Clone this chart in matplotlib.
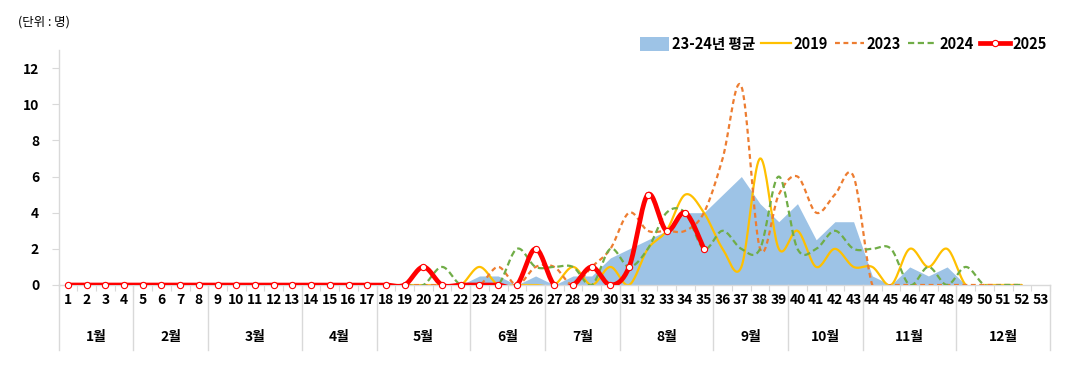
import matplotlib
matplotlib.use("Agg")
import matplotlib.pyplot as plt
import numpy as np
from matplotlib.patches import Patch
from matplotlib.lines import Line2D
import matplotlib.transforms as mtransforms

plt.rcParams['font.family'] = ['Noto Sans CJK KR', 'DejaVu Sans']

weeks = list(range(1, 54))
months = ["1월", "2월", "3월", "4월", "5월", "6월", "7월", "8월", "9월", "10월", "11월", "12월"]
month_weeks = [4, 4, 5, 4, 5, 4, 4, 5, 4, 4, 5, 5]

avg_2324 = [0]*22 + [0.5, 0.5, 0, 0.5, 0, 0.5, 0.5, 1.5, 2, 2.5, 3, 4, 4, 5, 6, 4.5, 3.5, 4.5,
                     2.5, 3.5, 3.5, 0.5, 0, 1, 0.5, 1, 0, 0, 0, 0]
y2019 = [0]*22 + [1, 0, 0, 0, 0, 1, 0, 1, 0, 2, 3, 5, 4, 2, 1, 7, 2, 3, 1, 2, 1, 1, 0, 2, 1, 2,
                  0, 0, 0, 0]
y2023 = [0]*23 + [1, 0, 1, 1, 0, 1, 2, 4, 3, 3, 3, 4, 7, 11, 2, 5, 6, 4, 5, 6, 0, 0, 0, 0, 0,
                  0, 0, 0, 0]
y2024 = [0]*20 + [1, 0, 0, 0, 2, 1, 1, 1, 0, 2, 1, 2, 4, 4, 2, 3, 2, 2, 6, 2, 2, 3, 2, 2, 2,
                  0, 1, 0, 1, 0, 0, 0]
y2025 = [0]*19 + [1, 0, 0, 0, 0, 0, 2, 0, 0, 1, 0, 1, 5, 3, 4, 2]


def smooth(xs, ys, n=20):
    """Excel-like smoothed line (Catmull-Rom / cubic Bezier through points)."""
    xs = np.asarray(xs, float)
    ys = np.asarray(ys, float)
    outx, outy = [], []
    N = len(xs)
    for i in range(N - 1):
        p0x, p0y = (xs[i - 1], ys[i - 1]) if i > 0 else (xs[i], ys[i])
        p1x, p1y = xs[i], ys[i]
        p2x, p2y = xs[i + 1], ys[i + 1]
        p3x, p3y = (xs[i + 2], ys[i + 2]) if i + 2 < N else (xs[i + 1], ys[i + 1])
        c1x = p1x + (p2x - p0x) / 6.0
        c1y = p1y + (p2y - p0y) / 6.0
        c2x = p2x - (p3x - p1x) / 6.0
        c2y = p2y - (p3y - p1y) / 6.0
        t = np.linspace(0, 1, n, endpoint=(i == N - 2))
        bx = (1-t)**3*p1x + 3*(1-t)**2*t*c1x + 3*(1-t)*t**2*c2x + t**3*p2x
        by = (1-t)**3*p1y + 3*(1-t)**2*t*c1y + 3*(1-t)*t**2*c2y + t**3*p2y
        outx.append(bx)
        outy.append(by)
    return np.concatenate(outx), np.concatenate(outy)


c_avg = '#9DC3E6'
c19 = '#FFC000'
c23 = '#ED7D31'
c24 = '#70AD47'
c25 = '#FF0000'
grid_c = '#D9D9D9'

fig = plt.figure(figsize=(10.79, 3.70), dpi=100)
ax = fig.add_axes([58.6/1079, 1-285/370, (1050-58.6)/1079, 235/370])

w52 = weeks[:len(avg_2324)]
ax.fill_between(w52, 0, avg_2324, color=c_avg, lw=0, zorder=1)

sx, sy = smooth(weeks[:len(y2019)], y2019)
ax.plot(sx, sy, color=c19, lw=1.6, zorder=2, solid_capstyle='round')
sx, sy = smooth(weeks[:len(y2023)], y2023)
ax.plot(sx, sy, color=c23, lw=1.6, ls=(0, (2.2, 1.6)), zorder=3)
sx, sy = smooth(weeks[:len(y2024)], y2024)
ax.plot(sx, sy, color=c24, lw=1.6, ls=(0, (2.8, 1.6)), zorder=4)
sx, sy = smooth(weeks[:len(y2025)], y2025)
ax.plot(sx, sy, color=c25, lw=3.4, zorder=5, solid_capstyle='round')
ax.plot(weeks[:len(y2025)], y2025, ls='none', marker='o', ms=4.5, mfc='white',
        mec=c25, mew=0.8, zorder=6, clip_on=False)

ax.set_xlim(0.5, 53.5)
ax.set_ylim(0, 13)
ax.set_yticks([0, 2, 4, 6, 8, 10, 12])
ax.set_xticks(weeks)
ax.set_xticks(np.arange(0.5, 54, 1), minor=True)
ax.tick_params(axis='x', which='major', length=0, pad=6, labelsize=10)
ax.tick_params(axis='x', which='minor', length=4, color=grid_c, width=0.8)
ax.tick_params(axis='y', which='major', length=5, color=grid_c, width=0.8, labelsize=10, pad=9)
for lab in ax.get_xticklabels() + ax.get_yticklabels():
    lab.set_fontweight('bold')

for s in ['top', 'right']:
    ax.spines[s].set_visible(False)
for s in ['left', 'bottom']:
    ax.spines[s].set_color(grid_c)
    ax.spines[s].set_linewidth(1.0)

trans = mtransforms.blended_transform_factory(ax.transData, ax.transAxes)
bounds = np.concatenate([[0.5], 0.5 + np.cumsum(month_weeks)])
for b in bounds:
    ax.plot([b, b], [0, -0.277], transform=trans, color=grid_c, lw=1.0, clip_on=False)
for i, m in enumerate(months):
    cx = (bounds[i] + bounds[i + 1]) / 2
    ax.text(cx, -0.221, m, transform=trans, ha='center', va='center', fontsize=10,
            fontweight='bold')

fig.text(18/1079, 1-22/370, "(단위 : 명)", ha='left', va='center', fontsize=9)

handles = [Patch(color=c_avg, lw=0),
           Line2D([], [], color=c19, lw=1.6),
           Line2D([], [], color=c23, lw=1.6, ls=(0, (2.2, 1.6))),
           Line2D([], [], color=c24, lw=1.6, ls=(0, (2.8, 1.6))),
           Line2D([], [], color=c25, lw=3.4, marker='o', ms=4.5, mfc='white', mec=c25, mew=0.8)]
labels = ["23-24년 평균", "2019", "2023", "2024", "2025"]
fig.legend(handles, labels, loc='center right', bbox_to_anchor=(1060/1079, 1-44/370), ncol=5,
           frameon=False, handlelength=2.0, handleheight=1.0, handletextpad=0.2,
           columnspacing=0.45, prop={'weight': 'bold', 'size': 10.5})

fig.savefig("out.png", dpi=100)
